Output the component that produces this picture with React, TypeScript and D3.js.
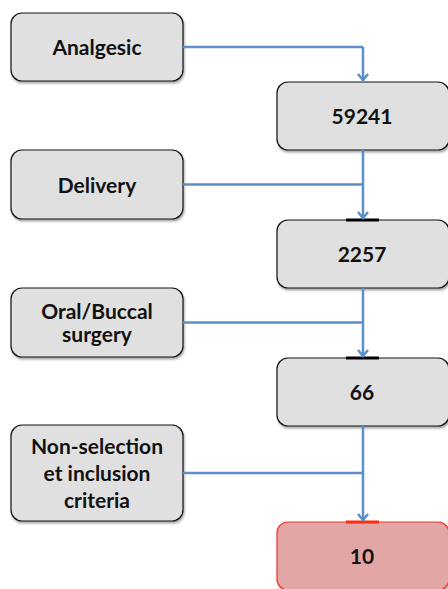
import React from 'react';
import * as d3 from 'd3';

const exclusions = ['Analgesic', 'Delivery', 'Oral/Buccal\nsurgery', 'Non-selection\net inclusion\ncriteria'];
const remaining = ['59241', '2257', '66', '10'];
const exclusionHeights = [68, 69, 69, 96];

const W = 448, H = 589;

const App = () => {
  const row = d3.scaleLinear().domain([0, 3]).range([13, 425]);
  const leftX = 11, leftW = 172;
  const rightX = 277, rightW = 172;
  const boxH = 68;
  const midX = 363;
  const arrow = '#5b8fc9';

  const items = exclusions.map((label, i) => {
    const top = Math.round(row(i));
    const h = exclusionHeights[i];
    const rTop = top + h + 1;
    return { label, top, h, rTop, cy: top + h / 2, count: remaining[i], last: i === remaining.length - 1 };
  });

  const textStyle = { fontFamily: 'Lato, "Open Sans", sans-serif', fontWeight: 700, fontSize: '21px', fill: '#111' };

  return (
    <svg width={W} height={H} style={{ position: 'absolute', left: 0, top: 0 }}>
      <defs>
        <filter id="sh" x="-10%" y="-10%" width="130%" height="140%">
          <feDropShadow dx="1" dy="2" stdDeviation="1.2" floodColor="#000" floodOpacity="0.35" />
        </filter>
      </defs>
      {items.map((d, i) => {
        const lines = d.label.split('\n');
        const lh = lines.length > 2 ? 27 : 23;
        const prevBottom = i === 0 ? d.cy : items[i - 1].rTop + boxH;
        return (
          <g key={i}>
            <rect x={leftX} y={d.top} width={leftW} height={d.h} rx={11} fill="#e0e0e0" stroke="#111" strokeWidth={1.2} filter="url(#sh)" />
            <text style={textStyle} textAnchor="middle" x={leftX + leftW / 2} y={d.cy - ((lines.length - 1) * lh) / 2 + 1}>
              {lines.map((l, j) => (
                <tspan key={j} x={leftX + leftW / 2} dy={j === 0 ? '0.35em' : lh}>{l}</tspan>
              ))}
            </text>
            <rect x={rightX} y={d.rTop} width={rightW} height={boxH} rx={11}
              fill={d.last ? '#e2a6a6' : '#e0e0e0'} stroke={d.last ? '#ee3b2b' : '#111'} strokeWidth={1.2} filter="url(#sh)" />
            {i > 0 && <line x1={346} x2={379} y1={d.rTop} y2={d.rTop} stroke={d.last ? '#ff2a10' : '#000'} strokeWidth={3} />}
            <text style={textStyle} textAnchor="middle" x={rightX + rightW / 2 - 1} y={d.rTop + boxH / 2 + 1} dy="0.35em">{d.count}</text>
            <path d={`M${leftX + leftW},${d.cy}H${midX}`} stroke={arrow} strokeWidth={2.5} fill="none" />
            <path d={`M${midX},${prevBottom}V${d.rTop - 1}`} stroke={arrow} strokeWidth={2.5} fill="none" />
            <path d={`M${midX - 5},${d.rTop - 8}L${midX},${d.rTop - 2}L${midX + 5},${d.rTop - 8}`} stroke={arrow} strokeWidth={2.5} fill="none" />
          </g>
        );
      })}
    </svg>
  );
};

export default App;
